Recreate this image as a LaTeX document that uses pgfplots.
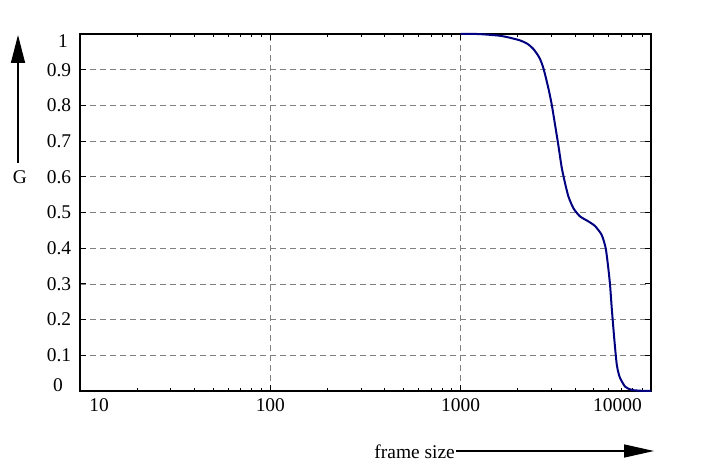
\documentclass[border=0pt]{standalone}
\usepackage{pgfplots}
\pgfplotsset{compat=1.18}
\usepackage{fontspec}
\setmainfont{Liberation Serif}
\usetikzlibrary{arrows.meta}
\definecolor{curve}{RGB}{0,0,128}

\begin{document}
\fontsize{19.5}{22}\selectfont
\begin{tikzpicture}
\useasboundingbox (-80bp,-76bp) rectangle (622bp,391bp);
\begin{axis}[
    scale only axis,
    width=571bp, height=357bp,
    xmode=log,
    xmin=10, xmax=10000,
    ymin=0, ymax=1,
    clip=false,
    /pgf/number format/assume math mode=true,
    xtick={10,100,1000,10000},
    xticklabels={,100,1000,},
    minor xtick={20,30,40,50,60,70,80,90,200,300,400,500,600,700,800,900,2000,3000,4000,5000,6000,7000,8000,9000},
    ytick={0,0.1,0.2,0.3,0.4,0.5,0.6,0.7,0.8,0.9,1},
    yticklabels={,0.1,0.2,0.3,0.4,0.5,0.6,0.7,0.8,0.9,},
    xticklabel style={anchor=center, yshift=-14.5bp},
    yticklabel style={anchor=center, xshift=-21bp},
    tick align=inside,
    major tick length=6bp,
    minor tick length=3bp,
    every tick/.style={black, line width=1bp},
    axis line style={line width=1.5bp},
    grid=major,
    major grid style={gray, line width=0.7bp, dash pattern=on 6bp off 4bp},
]
\addplot[curve, line width=2bp, smooth, tension=0.4] coordinates {
(1000,1.0) (1215,1.0) (1400,0.998) (1611,0.995) (1800,0.99) (2052,0.982)
(2250,0.972) (2410,0.958) (2520,0.944) (2612,0.930) (2721,0.904)
(2890,0.848) (3012,0.801) (3134,0.745) (3261,0.688) (3398,0.625)
(3536,0.582) (3681,0.545) (3910,0.512) (4239,0.489) (4690,0.475)
(5083,0.462) (5508,0.437) (5780,0.400) (5966,0.344) (6093,0.297)
(6220,0.232) (6343,0.176) (6477,0.120) (6612,0.073) (6750,0.050)
(6883,0.036) (7318,0.012) (7933,0.003) (9000,0.0005) (10000,0.0)
};
\node at (rel axis cs:0,0) [xshift=19bp, yshift=-14.5bp] {10};
\node at (rel axis cs:1,0) [xshift=-33.5bp, yshift=-14.5bp] {10000};
\node at (rel axis cs:0,0) [xshift=-22bp, yshift=5.5bp] {0};
\node at (rel axis cs:0,1) [xshift=-17bp, yshift=-7bp] {1};
\end{axis}
\draw[line width=1.5bp, -{Triangle[length=28bp,width=14bp]}] (-62bp,228bp) -- (-62bp,356bp);
\node at (-60bp,214bp) {G};
\draw[line width=1.5bp, -{Triangle[length=30bp,width=13bp]}] (376bp,-60bp) -- (574bp,-60bp);
\node[anchor=base east, inner sep=1bp] at (376bp,-67bp) {frame size};
\end{tikzpicture}
\end{document}
